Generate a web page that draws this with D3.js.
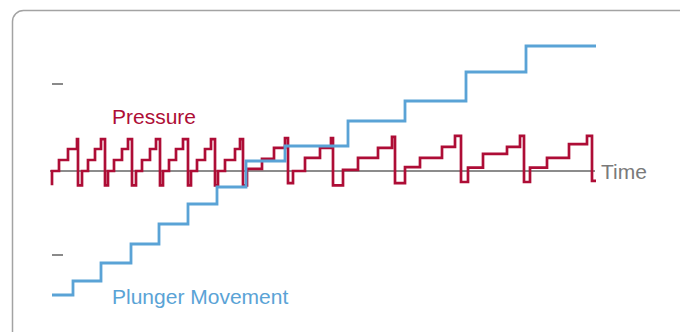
<!DOCTYPE html>
<html>
<head>
<meta charset="utf-8">
<script src="https://cdn.jsdelivr.net/npm/d3@7"></script>
<style>
  html, body { margin: 0; padding: 0; background: #fff; }
  svg { display: block; }
  text { font-family: "Liberation Sans", Arial, sans-serif; }
</style>
</head>
<body>
<div id="chart"></div>
<script>
// ---------- DATA ----------
// Pressure trace (step changes): time (s) and pressure (relative units)
const pressureTime = [
  0.4, 0.4, 1.8, 3.6, 5.4, 5.6,
  6.4, 7.6, 9.0, 10.2, 11.0,
  11.6, 12.8, 14.4, 15.6, 16.4,
  17.2, 18.4, 20.0, 21.2, 22.0,
  22.6, 23.8, 25.2, 26.6, 27.6,
  28.2, 29.4, 31.0, 32.2, 33.0,
  33.6, 35.0, 37.0, 38.0, 38.6,
  39.4, 42.4, 44.8, 47.0, 47.6,
  48.6, 51.0, 54.0, 56.2, 56.6,
  58.6, 61.6, 65.6, 68.4, 69.0,
  71.0, 74.0, 78.4, 81.0, 82.2,
  83.6, 86.6, 91.4, 94.0, 94.8,
  96.0, 99.4, 103.8, 107.4, 108.4,
  109.2
];
const pressureValue = [
  -1.3, 0, 1.0, 2.0, 2.9, -1.3,
  0, 1.0, 2.0, 2.9, -1.3,
  0, 1.0, 2.0, 2.9, -1.3,
  0, 1.0, 2.0, 2.9, -1.3,
  0, 1.0, 2.0, 2.9, -1.3,
  0, 1.0, 2.0, 2.9, -1.3,
  0, 1.0, 2.0, 2.9, -1.3,
  0.2, 1.1, 2.1, 3.0, -1.1,
  0.0, 1.2, 2.1, 3.0, -1.3,
  0.1, 1.2, 2.1, 3.1, -1.1,
  0.35, 1.2, 2.2, 3.2, -1.0,
  0.3, 1.55, 2.2, 3.2, -1.0,
  0.3, 1.2, 2.45, 3.2, -0.9,
  -0.9
];
// Plunger movement (step changes): time (s) and position (mm)
const plungerTime  = [0.4, 4.6, 10.2, 16.2, 21.8, 27.6, 33.4, 39.2, 47.0, 59.6, 71.0, 83.2, 95.2, 109.2];
const plungerValue = [0, 1.4, 3.2, 5.1, 7.1, 9.1, 10.8, 13.4, 14.9, 17.4, 19.4, 22.3, 24.9, 24.9];
// Time axis extent and y-axis tick marks (unlabelled)
const timeAxisExtent = [0, 109];
const yTickLevels = [-1, 1];
const labels = { pressure: "Pressure", plunger: "Plunger Movement", time: "Time" };

// ---------- CHART ----------
const W = 680, H = 332;
const svg = d3.select("#chart").append("svg").attr("width", W).attr("height", H);

// frame
svg.append("rect")
  .attr("x", 12.5).attr("y", 10.5)
  .attr("width", 720).attr("height", 360)
  .attr("rx", 11).attr("ry", 11)
  .attr("fill", "none").attr("stroke", "#a3a3a3").attr("stroke-width", 1.5);

const x = d3.scaleLinear().domain([0, 110]).range([50, 600]);
const yP = d3.scaleLinear().domain([-1, 3]).range([182, 138]);
const yM = d3.scaleLinear().domain([0, 25]).range([295, 45]);
const yTick = d3.scaleLinear().domain([-1, 1]).range([255, 84]);

// tick marks
svg.append("g").selectAll("line").data(yTickLevels).join("line")
  .attr("x1", 52).attr("x2", 63)
  .attr("y1", d => yTick(d)).attr("y2", d => yTick(d))
  .attr("stroke", "#8a8a8a").attr("stroke-width", 2);

// zero / time axis line
svg.append("line")
  .attr("x1", x(timeAxisExtent[0])).attr("x2", x(timeAxisExtent[1]))
  .attr("y1", yP(0)).attr("y2", yP(0))
  .attr("stroke", "#8c8c8c").attr("stroke-width", 2);

// pressure
const pData = pressureTime.map((t, i) => [t, pressureValue[i]]);
svg.append("path")
  .datum(pData)
  .attr("d", d3.line().x(d => x(d[0])).y(d => yP(d[1])).curve(d3.curveStepAfter))
  .attr("fill", "none").attr("stroke", "#ae0d36").attr("stroke-width", 2.7)
  .attr("stroke-linejoin", "miter");

// plunger
const mData = plungerTime.map((t, i) => [t, plungerValue[i]]);
svg.append("path")
  .datum(mData)
  .attr("d", d3.line().x(d => x(d[0])).y(d => yM(d[1])).curve(d3.curveStepAfter))
  .attr("fill", "none").attr("stroke", "#5aa3d6").attr("stroke-width", 2.8)
  .attr("stroke-linejoin", "miter");

// labels
svg.append("text").attr("x", 112).attr("y", 124)
  .attr("font-size", 21).attr("fill", "#ae0d36").text(labels.pressure);
svg.append("text").attr("x", 112).attr("y", 304)
  .attr("font-size", 21).attr("fill", "#5aa3d6").text(labels.plunger);
svg.append("text").attr("x", 601).attr("y", 179)
  .attr("font-size", 21).attr("fill", "#7a7a7a").text(labels.time);
</script>
</body>
</html>
